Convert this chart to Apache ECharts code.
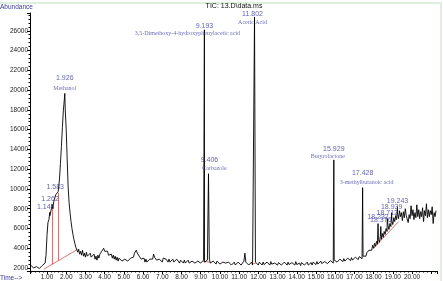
<!DOCTYPE html>
<html>
<head>
<meta charset="utf-8">
<style>
html, body { margin: 0; padding: 0; background: #fff; }
#main { width: 443px; height: 281px; }
</style>
<script src="https://cdn.jsdelivr.net/npm/echarts@6/dist/echarts.min.js"></script>
</head>
<body>
<div id="main"></div>
<script>
// TIC scans: one value every 0.05 min starting at 0.15 min
var scanStart = 0.15;
var scanStep = 0.05;
var scanAbund = [
  2300, 2100, 2250, 2000, 2200, 1950, 2150, 2050, 2250, 1950, 2100, 2000, 2250, 2150, 2350, 2500, 3300, 5300, 6600, 6900,
  7300, 7500, 8200, 8000, 8700, 8900, 9400, 9200, 9200, 9900, 11000, 12600, 14300, 16200, 17900, 19000, 18000, 16000, 13000, 10200,
  8600, 7600, 6700, 6000, 5400, 4900, 4500, 4100, 3900, 3600, 3900, 3400, 3700, 3300, 3800, 3200, 3500, 3100, 3600, 3200,
  3400, 3000, 3500, 3100, 3300, 2900, 3400, 2900, 3200, 2800, 3300, 3000, 3400, 3200, 3700, 3500, 4000, 3700, 3900, 3500,
  3700, 3300, 3500, 3100, 3400, 3000, 3300, 2900, 3200, 2800, 3100, 2700, 3000, 2800, 3100, 2700, 2900, 2600, 2900, 2700,
  3000, 2700, 2900, 2600, 3000, 2800, 3200, 3100, 3500, 3400, 3800, 3500, 3700, 3200, 3400, 2900, 3100, 2700, 3000, 2600,
  2900, 2600, 2800, 2500, 2900, 2700, 3100, 2900, 3400, 3100, 3300, 2800, 3000, 2600, 2900, 2700, 2900, 2600, 3000, 2800,
  3200, 2900, 3100, 2600, 2900, 2600, 2800, 2500, 2900, 2600, 2800, 2500, 2900, 2700, 2800, 2500, 2800, 2600, 2800, 2500,
  2800, 2500, 2700, 2600, 2800, 2500, 2700, 2400, 2700, 2500, 2800, 2500, 2700, 2400, 2700, 2500, 2800, 2500, 2700, 2600,
  2800, 2600, 2700, 2500, 2800, 2700, 2900, 2500, 2700, 2400, 2700, 2500, 2600, 2400, 2700, 2500, 2600, 2400, 2600, 2400,
  2600, 2400, 2700, 2500, 2600, 2300, 2600, 2400, 2600, 2300, 2500, 2400, 2600, 2300, 2500, 2300, 2600, 2400, 2500, 2300,
  2500, 2400, 2700, 3500, 2600, 2400, 2500, 2300, 2500, 2400, 2600, 2300, 2500, 2400, 2600, 2400, 2500, 2300, 2600, 2400,
  2500, 2300, 2600, 2350, 2550, 2250, 2600, 2400, 2500, 2300, 2650, 2400, 2500, 2250, 2500, 2350, 2600, 2300, 2550, 2400,
  2550, 2300, 2500, 2250, 2600, 2400, 2450, 2300, 2600, 2350, 2500, 2250, 2550, 2400, 2500, 2300, 2650, 2350, 2500, 2300,
  2500, 2250, 2550, 2350, 2600, 2300, 2450, 2350, 2600, 2300, 2500, 2400, 2550, 2300, 2600, 2400, 2500, 2350, 2650, 2400,
  2600, 2400, 2700, 2450, 2600, 2400, 2650, 2500, 2700, 2450, 2650, 2500, 2750, 2550, 2650, 2500, 2800, 2600, 2750, 2600,
  2800, 2600, 2900, 2700, 2850, 2650, 2950, 2700, 2900, 2750, 3000, 2800, 2950, 2750, 3050, 2800, 3000, 2850, 3100, 2900,
  3050, 2850, 3150, 2950, 3100, 2950, 3200, 3050, 3350, 3200, 3550, 3400, 3800, 3600, 4000, 3800, 4300, 4000, 4500, 4200,
  4700, 4400, 4900, 4600, 5200, 4900, 5500, 5100, 5700, 5400, 6000, 5700, 6300, 5900, 6500, 6200, 6800, 6400, 7100, 6700,
  7300, 6900, 7500, 7000, 7800, 7200, 7600, 6800, 7700, 7100, 8000, 7300, 7500, 6600, 7400, 7000, 8300, 7300, 7900, 6900,
  7600, 7100, 8400, 7200, 7900, 7000, 7700, 7200, 8100, 6700, 7800, 7300, 8500, 7100, 7900, 7200, 7800, 7400, 8200, 6500,
  7600, 7200, 7800
];

// labelled peaks (retention time, apex abundance, name)
var peakTimes = [1.143, 1.262, 1.583, 1.926, 9.193, 9.406, 11.802, 15.929, 17.428, 18.232, 18.376, 18.712, 18.939, 19.243];
var peakAbund = [7620, 8430, 9730, 19670, 26100, 11540, 27400, 12940, 10130, 6500, 6200, 7000, 7600, 8200];
var peakNames = ['', '', '', 'Methanol', '3,5-Dimethoxy-4-hydroxyphenylacetic acid', 'Carbazole', 'Acetic Acid',
  'Butyrolactone', '3-methylbutanoic acid', '', '', '', '', ''];

// integration baselines: [t0, v0, t1, v1]
var integLines = [
  [0.85, 1900, 2.6, 3900],
  [1.262, 2370, 1.262, 8000],
  [1.583, 2740, 1.583, 9600],
  [9.12, 2650, 9.48, 2600],
  [11.74, 2450, 11.86, 2450],
  [18.0, 4000, 19.3, 6700]
];

var yMin = 1700, yMax = 27800;
var xMin = 0.115, xMax = 21.3;

// label nudges [dx, dy] so labels sit like the original
var timeShift = [[-4, -5], [-2, -5], [-3, -5], [0, -15], [0, -4], [1, -14], [-2, -3], [0, -11], [0, -15],
  [0, -6], [0, -6], [0, -6], [0, -6], [0, -6]];
var nameShift = {3: [0, -5], 4: [-17, 4], 5: [6, -5], 6: [-2, 5], 7: [-6, -3], 8: [4, -5]};

var blue = '#3a3a98';

var chart = echarts.init(document.getElementById('main'));

// scans plus the peak apexes, in time order
var traceData = scanAbund.map(function (v, i) {
  return [Math.round((scanStart + i * scanStep) * 1000) / 1000, v];
});
peakTimes.forEach(function (t, i) {
  traceData.push([t, peakAbund[i]]);
});
traceData.sort(function (a, b) { return a[0] - b[0]; });

var timeLabelData = peakTimes.map(function (t, i) {
  return {
    value: [t, peakAbund[i]],
    label: { offset: timeShift[i], formatter: t.toFixed(3) }
  };
});
var nameLabelData = [];
peakNames.forEach(function (n, i) {
  if (!n) return;
  nameLabelData.push({
    value: [peakTimes[i], peakAbund[i]],
    label: { offset: nameShift[i], formatter: n }
  });
});

var option = {
  animation: false,
  backgroundColor: '#fff',
  grid: { left: 30, right: 6, top: 13, bottom: 8 },
  xAxis: {
    type: 'value',
    min: xMin,
    max: xMax,
    splitNumber: 21,
    axisLine: { lineStyle: { color: '#000', width: 1 } },
    axisTick: { length: 3, lineStyle: { color: '#000' } },
    minorTick: { show: true, splitNumber: 5, length: 1.5, lineStyle: { color: '#000' } },
    splitLine: { show: false },
    axisLabel: {
      showMinLabel: false,
      showMaxLabel: false,
      margin: 3,
      fontSize: 6.5,
      fontFamily: 'Liberation Sans',
      color: '#222',
      formatter: function (v) { return v > 20.5 ? '' : v.toFixed(2); }
    }
  },
  yAxis: {
    type: 'value',
    min: yMin,
    max: yMax,
    splitNumber: 13,
    axisLine: { show: true, lineStyle: { color: '#000', width: 1 } },
    axisTick: { show: true, length: 3, lineStyle: { color: '#000' } },
    minorTick: { show: true, splitNumber: 5, length: 1.5, lineStyle: { color: '#000' } },
    splitLine: { show: false },
    axisLabel: {
      showMinLabel: false,
      showMaxLabel: false,
      margin: 2,
      fontSize: 6.5,
      fontFamily: 'Liberation Sans',
      color: '#222',
      formatter: function (v) { return String(v); }
    }
  },
  graphic: [
    { type: 'rect', shape: { x: -3, y: 3, width: 444, height: 290 },
      style: { fill: 'none', stroke: '#dfeedf', lineWidth: 2 }, silent: true },
    { type: 'text', left: 0, top: 4,
      style: { text: 'Abundance', fill: blue, font: '6.5px "Liberation Sans"' } },
    { type: 'text', left: 0, top: 275,
      style: { text: 'Time-->', fill: blue, font: '6.5px "Liberation Sans"' } },
    { type: 'text', x: 234, y: 3,
      style: { text: 'TIC: 13.D\\data.ms', fill: '#111', font: '7px "Liberation Sans"', textAlign: 'center' } }
  ],
  series: [
    {
      type: 'line',
      data: traceData,
      showSymbol: false,
      symbol: 'none',
      lineStyle: { color: '#000', width: 0.9 },
      z: 3
    },
    {
      type: 'lines',
      coordinateSystem: 'cartesian2d',
      data: integLines.map(function (s) { return { coords: [[s[0], s[1]], [s[2], s[3]]] }; }),
      lineStyle: { color: '#d05050', width: 0.8, opacity: 1 },
      z: 2
    },
    {
      type: 'scatter',
      data: timeLabelData,
      symbolSize: 0,
      label: {
        show: true,
        position: 'inside',
        fontSize: 7,
        fontFamily: 'Liberation Sans',
        color: blue
      },
      z: 5
    },
    {
      type: 'scatter',
      data: nameLabelData,
      symbolSize: 0,
      label: {
        show: true,
        position: 'inside',
        fontSize: 6,
        fontFamily: 'Liberation Serif',
        color: '#4848a6'
      },
      z: 5
    }
  ]
};

chart.setOption(option);
</script>
</body>
</html>
